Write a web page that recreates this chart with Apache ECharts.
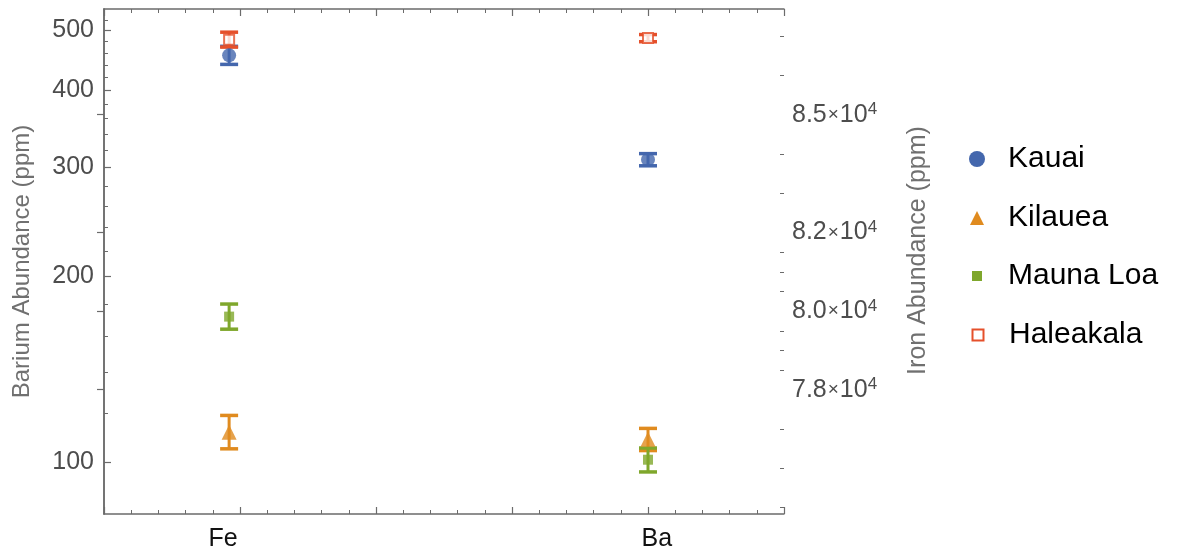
<!DOCTYPE html>
<html>
<head>
<meta charset="utf-8">
<title>Barium and Iron Abundance</title>
<script src="https://cdn.jsdelivr.net/npm/echarts@6/dist/echarts.min.js"></script>
</head>
<body style="margin: 0">
<div id="main" style="width: 1192px; height: 556px;"></div>
<script>
var sites = ['Kauai', 'Kilauea', 'Mauna Loa', 'Haleakala'];
var elements = ['Fe', 'Ba'];
var elementX = [0.92, 4.0];
var elementLabelX = [0.875, 4.065];

var ironValues = [86510, 76920, 79860, 86910];
var ironErrors = [230, 425, 320, 190];
var bariumValues = [309, 109, 101, 486];
var bariumErrors = [7, 4.5, 4.5, 6.5];

var bariumTicks = [100, 200, 300, 400, 500];
var bariumMinorTicks = [120, 140, 160, 180, 220, 240, 260, 280, 320, 340, 360, 380, 420, 440, 460, 480, 520];
var ironTicks = [78000, 80000, 82000, 85000];
var ironMinorTicks = [75000, 76000, 77000, 78500, 79000, 79500, 80500, 81000, 81500, 83000, 84000, 86000, 87000];

var colors = ['#4467ad', '#e08b1f', '#7fa72c', '#e5502b'];
var symbols = ['circle', 'triangle', 'rect', 'rect'];
var symbolSizes = [14, 15, 10, 10];
var legendSizes = [16, 14, 10, 11];
var legendCenters = [161, 220, 278, 337];

var font = '"Liberation Sans", Arial, Helvetica, sans-serif';
var frameColor = '#6b6b6b';
var labelColor = '#4d4d4d';
var bariumMin = 82.5, bariumMax = 541.7;
var ironMin = 74836, ironMax = 87690;

function renderErrorBar(params, api) {
    var top = api.coord([api.value(0), api.value(2)]);
    var bottom = api.coord([api.value(0), api.value(1)]);
    var half = 9;
    var color = api.visual('color');
    return {
        type: 'group',
        children: [
            { type: 'line', shape: { x1: top[0], y1: top[1], x2: bottom[0], y2: bottom[1] },
              style: { stroke: color, lineWidth: 3 } },
            { type: 'line', shape: { x1: top[0] - half, y1: top[1], x2: top[0] + half, y2: top[1] },
              style: { stroke: color, lineWidth: 3.5 } },
            { type: 'line', shape: { x1: bottom[0] - half, y1: bottom[1], x2: bottom[0] + half, y2: bottom[1] },
              style: { stroke: color, lineWidth: 3.5 } }
        ]
    };
}

function pointStyle(i) {
    if (i === 3) {
        return { color: '#fff', borderColor: colors[i], borderWidth: 2 };
    }
    return { color: colors[i] };
}

var series = [];
sites.forEach(function (site, i) {
    // Fe measured against the iron (right) axis
    series.push({
        name: site, type: 'custom', xAxisIndex: 0, yAxisIndex: 1,
        itemStyle: { color: colors[i] },
        renderItem: renderErrorBar,
        data: [[elementX[0], ironValues[i] - ironErrors[i], ironValues[i] + ironErrors[i]]]
    });
    series.push({
        name: site, type: 'scatter', xAxisIndex: 0, yAxisIndex: 1,
        symbol: symbols[i], symbolSize: symbolSizes[i],
        itemStyle: pointStyle(i),
        data: [[elementX[0], ironValues[i]]]
    });
    // Ba measured against the barium (left, log) axis
    series.push({
        name: site, type: 'custom', xAxisIndex: 0, yAxisIndex: 0,
        itemStyle: { color: colors[i] },
        renderItem: renderErrorBar,
        data: [[elementX[1], bariumValues[i] - bariumErrors[i], bariumValues[i] + bariumErrors[i]]]
    });
    series.push({
        name: site, type: 'scatter', xAxisIndex: 0, yAxisIndex: 0,
        symbol: symbols[i], symbolSize: symbolSizes[i],
        itemStyle: pointStyle(i),
        data: [[elementX[1], bariumValues[i]]]
    });
});

var legends = sites.map(function (site, i) {
    return {
        data: [{ name: site, icon: symbols[i], itemStyle: pointStyle(i) }],
        left: 977 - legendSizes[i] / 2,
        top: legendCenters[i] - 17,
        padding: 0,
        itemWidth: legendSizes[i],
        itemHeight: legendSizes[i],
        selectedMode: false,
        textStyle: {
            fontFamily: font, fontSize: 30, color: '#000',
            padding: [0, 0, 0, 31 - legendSizes[i] / 2 - 5]
        }
    };
});

function xAxisBase(position, showLabel) {
    return {
        type: 'value', position: position, min: 0, max: 5, interval: 1,
        axisLine: { lineStyle: { color: frameColor, width: 1.5 } },
        axisTick: { inside: true, length: 7, lineStyle: { color: frameColor, width: 1.2 } },
        minorTick: { show: true, splitNumber: 5, length: 4, lineStyle: { color: frameColor, width: 1 } },
        splitLine: { show: false },
        minorSplitLine: { show: false },
        axisLabel: {
            show: showLabel,
            customValues: elementLabelX,
            formatter: function (v) { return elements[elementLabelX.indexOf(v)]; },
            fontFamily: font, fontSize: 25, color: '#111', margin: 13
        }
    };
}

var option = {
    animation: false,
    backgroundColor: '#fff',
    grid: { left: 104, top: 9, width: 680, height: 505, containLabel: false },
    legend: legends,
    xAxis: [xAxisBase('bottom', true), xAxisBase('top', false)],
    yAxis: [
        // barium log scale carrying the Ba points
        { type: 'log', min: bariumMin, max: bariumMax, show: false },
        // iron axis on the right
        {
            type: 'value', position: 'right', min: ironMin, max: ironMax,
            name: 'Iron Abundance (ppm)', nameLocation: 'middle', nameRotate: 90, nameGap: 122,
            nameTextStyle: { fontFamily: font, fontSize: 25, color: '#707070', padding: [0, 0, 0, 22] },
            axisLine: { show: true, lineStyle: { color: frameColor, width: 1.5 } },
            axisTick: { inside: true, length: 7, customValues: ironTicks, lineStyle: { color: frameColor, width: 1.2 } },
            splitLine: { show: false },
            axisLabel: {
                customValues: ironTicks, margin: 8,
                formatter: function (v) {
                    return '{a|' + (v / 10000).toFixed(1) + '}{x|×}{a|10}{s|4}';
                },
                rich: {
                    a: { fontFamily: font, fontSize: 25, color: labelColor, lineHeight: 26 },
                    x: { fontFamily: font, fontSize: 19, color: labelColor, padding: [0, 1, 0, 1] },
                    s: { fontFamily: font, fontSize: 17, color: labelColor, verticalAlign: 'top', padding: [0, 0, 10, 0] }
                }
            }
        },
        {
            type: 'value', position: 'right', min: ironMin, max: ironMax,
            axisLine: { show: false },
            axisTick: { inside: true, length: 4, customValues: ironMinorTicks, lineStyle: { color: frameColor, width: 1 } },
            axisLabel: { show: false },
            splitLine: { show: false }
        },
        // left labels and ticks laid out in log10 units
        {
            type: 'value', position: 'left', min: Math.log10(bariumMin), max: Math.log10(bariumMax),
            name: 'Barium Abundance (ppm)', nameLocation: 'middle', nameRotate: 90, nameGap: 70,
            nameTextStyle: { fontFamily: font, fontSize: 24, color: '#707070' },
            axisLine: { show: true, lineStyle: { color: frameColor, width: 1.5 } },
            axisTick: { inside: true, length: 7, customValues: bariumTicks.map(Math.log10), lineStyle: { color: frameColor, width: 1.2 } },
            splitLine: { show: false },
            axisLabel: {
                customValues: bariumTicks.map(Math.log10), margin: 10,
                formatter: function (v) { return String(Math.round(Math.pow(10, v))); },
                fontFamily: font, fontSize: 25, color: labelColor
            }
        },
        {
            type: 'value', position: 'left', min: Math.log10(bariumMin), max: Math.log10(bariumMax),
            axisLine: { show: false },
            axisTick: { inside: true, length: 4, customValues: bariumMinorTicks.map(Math.log10), lineStyle: { color: frameColor, width: 1 } },
            axisLabel: { show: false },
            splitLine: { show: false }
        }
    ],
    series: series
};

var myChart = echarts.init(document.getElementById('main'));
myChart.setOption(option);
</script>
</body>
</html>
